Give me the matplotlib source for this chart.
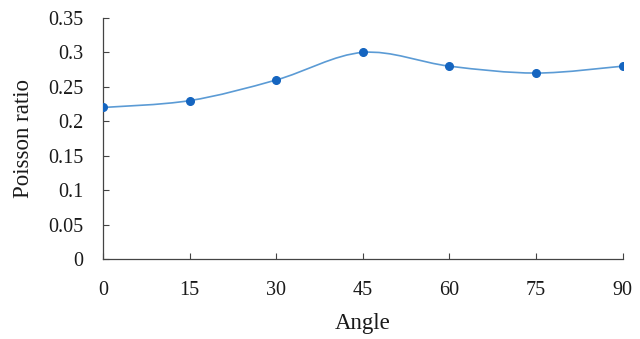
import numpy as np
import matplotlib.pyplot as plt
from matplotlib.path import Path
from matplotlib.patches import PathPatch

plt.rcParams['font.family'] = ['Liberation Serif', 'DejaVu Serif']

angle = [0, 15, 30, 45, 60, 75, 90]
poisson = [0.22, 0.23, 0.26, 0.30, 0.28, 0.27, 0.28]
xticks = [0, 15, 30, 45, 60, 75, 90]
yticks = [0, 0.05, 0.1, 0.15, 0.2, 0.25, 0.3, 0.35]
ytick_labels = ["0", "0.05", "0.1", "0.15", "0.2", "0.25", "0.3", "0.35"]

fig = plt.figure(figsize=(6.4, 3.39), dpi=100)
ax = fig.add_axes([0.161, 0.236, 0.812, 0.711])

# smoothed line (Excel style): cubic Bezier through the points
x = np.array(angle, dtype=float)
y = np.array(poisson, dtype=float)
verts = [(x[0], y[0])]
codes = [Path.MOVETO]
n = len(x)
for i in range(n - 1):
    x0, y0 = (x[i - 1], y[i - 1]) if i > 0 else (x[i], y[i])
    x3, y3 = (x[i + 2], y[i + 2]) if i + 2 < n else (x[i + 1], y[i + 1])
    c1 = (x[i] + (x[i + 1] - x0) / 6, y[i] + (y[i + 1] - y0) / 6)
    c2 = (x[i + 1] - (x3 - x[i]) / 6, y[i + 1] - (y3 - y[i]) / 6)
    verts += [c1, c2, (x[i + 1], y[i + 1])]
    codes += [Path.CURVE4] * 3
ax.add_patch(PathPatch(Path(verts, codes), fill=False, edgecolor='#5b9bd5', lw=1.2, zorder=2))
ax.plot(angle, poisson, 'o', color='#1565c0', markersize=5.5, zorder=3)

ax.set_xlim(0, 90)
ax.set_ylim(0, 0.35)
ax.set_xticks(xticks)
ax.set_yticks(yticks)
ax.set_yticklabels(ytick_labels)
ax.tick_params(direction='in', length=4, width=0.8, color='#444444', labelsize=14.5, labelcolor='#1a1a1a')
ax.tick_params(axis='x', pad=16)
ax.tick_params(axis='y', pad=14)
for s in ['top', 'right']:
    ax.spines[s].set_visible(False)
for s in ['left', 'bottom']:
    ax.spines[s].set_color('#444444')
    ax.spines[s].set_linewidth(0.9)
ax.set_xlabel("Angle", fontsize=16.5, color='#1a1a1a', labelpad=9)
ax.set_ylabel("Poisson ratio", fontsize=16.5, color='#1a1a1a', labelpad=10)

fig.savefig("out.png", dpi=100)
